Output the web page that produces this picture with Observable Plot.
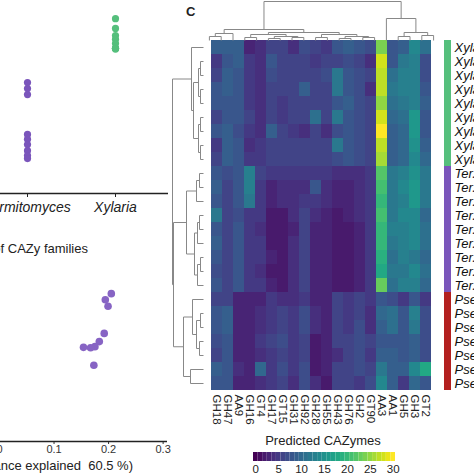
<!DOCTYPE html>
<html><head><meta charset="utf-8">
<script src="https://cdn.jsdelivr.net/npm/d3@7"></script>
<script src="https://cdn.jsdelivr.net/npm/@observablehq/plot@0.6"></script>
<style>
html,body{margin:0;padding:0;background:#fff;overflow:hidden;}
#root{position:relative;width:474px;height:474px;overflow:hidden;font-family:"Liberation Sans",Arial,sans-serif;color:#222;background:#fff;}
.abs{position:absolute;white-space:nowrap;}
</style></head><body><div id="root"></div>
<script>
// ---------- data ----------
const genera = ["Pseudoxylaria", "Termitomyces", "Xylaria"];
const genusColors = ["#b3201f", "#7a55bb", "#55bf7c"];

// panel B (strip): predicted CAZymes per genome
const stripGenus = ["Pseudoxylaria","Pseudoxylaria","Pseudoxylaria","Pseudoxylaria","Pseudoxylaria","Pseudoxylaria","Pseudoxylaria",
  "Termitomyces","Termitomyces","Termitomyces","Termitomyces","Termitomyces","Termitomyces","Termitomyces","Termitomyces","Termitomyces",
  "Xylaria","Xylaria","Xylaria","Xylaria","Xylaria","Xylaria","Xylaria","Xylaria","Xylaria"];
const stripValue = [170,175,180,185,190,195,200,
  295,279,263,157,144,130,114,101,93,
  465,439,420,410,399,386,386,386,384];

// panel PCA
const pcaGenus = ["Pseudoxylaria","Pseudoxylaria","Pseudoxylaria","Xylaria","Xylaria","Xylaria",
  "Termitomyces","Termitomyces","Termitomyces","Termitomyces","Termitomyces","Termitomyces","Termitomyces","Termitomyces","Termitomyces"];
const pcaPC1 = [-0.15,-0.16,-0.14,-0.22,-0.21,-0.23, 0.205,0.194,0.199,0.192,0.183,0.175,0.167,0.154,0.173];
const pcaPC2 = [-0.10,-0.12,-0.09,0.05,0.07,0.03, 0.163,0.146,0.128,0.052,0.029,0.015,0.012,0.013,-0.037];
const pcaTicks = [-0.3,-0.2,-0.1,0,0.1,0.2,0.3];

// panel C heatmap
const families = ["GH18","GH47","AA9","GH16","GT4","GH17","GT15","GH31","GH92","GH28","GH55","GH43","GH76","GH2","GT90","AA3","AA1","GH5","GH3","GT2"];
const genomeNames = [
  "Xylaria sp. X802","Xylaria sp. X3.2","Xylaria sp. X19","Xylaria sp. X25","Xylaria sp. X36","Xylaria sp. X40","Xylaria sp. X52","Xylaria sp. X71","Xylaria sp. X95",
  "Ter. sp. P5","Ter. sp. T112","Ter. sp. T132","Ter. sp. T153","Ter. sp. J132","Ter. sp. P2","Ter. sp. P3","Ter. sp. P4","Ter. sp. T123",
  "Pseudoxylaria sp. 1","Pseudoxylaria sp. 2","Pseudoxylaria sp. 3","Pseudoxylaria sp. 4","Pseudoxylaria sp. 5","Pseudoxylaria sp. 6","Pseudoxylaria sp. 7"];
const genomeGenus = [
  "Xylaria","Xylaria","Xylaria","Xylaria","Xylaria","Xylaria","Xylaria","Xylaria","Xylaria",
  "Termitomyces","Termitomyces","Termitomyces","Termitomyces","Termitomyces","Termitomyces","Termitomyces","Termitomyces","Termitomyces",
  "Pseudoxylaria","Pseudoxylaria","Pseudoxylaria","Pseudoxylaria","Pseudoxylaria","Pseudoxylaria","Pseudoxylaria"];
const counts = [
  [9,9,9,3,4,6,6,4,7,6,5,8,9,8,7,24,8,9,14,11],
  [5,8,9,5,4,8,6,6,6,5,6,6,7,6,4,28,8,12,13,7],
  [6,9,8,5,4,7,6,6,6,6,7,12,8,7,6,27,11,13,13,7],
  [8,9,8,5,4,6,6,6,9,6,6,12,8,7,4,27,12,13,13,8],
  [8,8,8,5,4,6,5,6,6,6,6,8,9,7,6,25,11,12,13,9],
  [6,8,8,6,4,6,5,6,6,11,6,12,8,7,6,28,10,11,16,8],
  [8,9,7,5,4,9,6,5,4,6,4,7,8,7,6,30,9,10,16,8],
  [5,9,8,4,5,6,6,6,6,6,6,12,8,7,6,27,9,10,15,9],
  [6,9,8,5,5,6,6,6,6,6,6,7,8,7,6,26,9,10,14,10],
  [8,7,8,13,6,5,5,5,5,5,5,4,4,4,5,22,12,13,15,12],
  [9,6,8,13,5,3,4,4,4,8,4,3,3,4,5,21,12,14,16,12],
  [8,6,8,12,5,3,4,4,5,5,4,3,3,4,5,20,12,13,16,12],
  [12,6,7,5,5,2,2,4,6,4,3,2,3,4,5,21,12,14,14,10],
  [8,6,8,5,4,2,2,3,6,3,3,2,2,3,5,20,13,13,14,11],
  [9,6,8,5,5,2,2,4,6,3,3,2,2,3,5,20,12,13,14,11],
  [8,6,8,5,5,3,2,4,6,3,3,2,2,3,5,19,11,13,12,10],
  [7,6,8,5,4,2,2,4,6,3,3,2,2,3,5,18,12,12,14,11],
  [8,6,8,5,5,3,2,4,6,3,3,2,2,3,5,23,11,13,13,10],
  [6,6,3,3,3,5,4,4,5,3,3,6,5,6,5,8,7,5,8,5],
  [8,9,3,3,4,5,6,5,7,4,3,6,5,6,4,10,11,8,13,7],
  [8,9,3,3,4,5,6,5,7,4,3,6,5,7,4,9,11,8,12,7],
  [7,8,3,3,5,6,7,5,6,2,3,6,6,7,6,8,8,8,9,7],
  [6,8,3,3,4,5,6,5,6,2,3,4,6,7,5,9,9,8,9,7],
  [9,8,4,3,10,5,7,5,7,2,3,6,6,7,6,12,9,9,14,18],
  [8,8,3,3,4,5,6,4,7,4,2,6,6,5,7,14,9,5,10,8]
];
// dendrograms: [mergeHeight, left, right]; leaves are column / row indices
const colTree = [39,
  [11,
    [7, [4, 0, 1], 2],
    [8,
      [6, [3, 3, 4], [4, [2, 5, 6], [3, 7, 8]]],
      [6, [3, 9, 10], [4, [2, 11, 12], [3, 13, 14]]]]],
  [22, 15, [8, [4, 16, 17], [5, 18, 19]]]];
const rowTree = [31,
  [12, 0, [10, [5, [3, 1, 2], [3, 3, 4]], [5, [3, 5, 6], [3, 7, 8]]]],
  [30,
    [17, [7, [4, 9, 10], 11], [9, [6, [4, 12, 13], 14], [6, [3, 15, 16], 17]]],
    [20, [11, 18, [7, [3, 19, 20], [4, 21, 22]]], [13, 23, 24]]]];
const legendTicks = [0, 5, 10, 15, 20, 25, 30];

// ---------- helpers ----------
const root = document.getElementById("root");
const FONT = '"Liberation Sans", Arial, sans-serif';
const st = (fs, extra = {}) => Object.assign({background: "transparent", overflow: "visible", maxWidth: "none",
  fontFamily: FONT, fontSize: fs + "px", color: "#222"}, extra);
function place(node, left, top) {
  const d = document.createElement("div");
  d.className = "abs"; d.style.left = left + "px"; d.style.top = top + "px";
  d.appendChild(node); root.appendChild(d); return d;
}
function label(text, css) {
  const d = document.createElement("div");
  d.className = "abs"; d.textContent = text;
  Object.assign(d.style, {fontFamily: FONT, lineHeight: "15px"}, css);
  root.appendChild(d);
}
function segments(tree) {
  const segs = [];
  function walk(n) {
    if (typeof n === "number") return {p: n, h: 0};
    const [h, a, b] = n;
    const A = walk(a), B = walk(b);
    segs.push({p1: A.p, h1: A.h, p2: A.p, h2: h});
    segs.push({p1: B.p, h1: B.h, p2: B.p, h2: h});
    segs.push({p1: A.p, h1: h, p2: B.p, h2: h});
    return {p: (A.p + B.p) / 2, h};
  }
  walk(tree);
  return segs;
}

// ---------- panel B strip ----------
const stripRows = stripGenus.map((g, i) => ({genus: g, value: stripValue[i]}));
place(Plot.plot({
  width: 368, height: 230, marginLeft: 86.2, marginRight: 0, marginTop: 5, marginBottom: 37,
  x: {type: "point", domain: genera, padding: 0.6, tickSize: 4, tickPadding: 5, label: null},
  y: {domain: [0, 500], axis: null},
  color: {domain: genera, range: genusColors},
  style: st(14, {fontStyle: "italic"}),
  marks: [
    Plot.ruleY([0], {stroke: "#222", strokeWidth: 1.5}),
    Plot.dot(stripRows, {x: "genus", y: "value", r: 3.6, fill: "genus"})
  ]
}), -200, 0);

// ---------- PCA ----------
const pcaRows = pcaGenus.map((g, i) => ({genus: g, pc1: pcaPC1[i], pc2: pcaPC2[i]}));
const pcaY = [-0.25, 0.25];
place(Plot.plot({
  width: 417, height: 234, marginLeft: 52.6, marginRight: 0, marginTop: 22, marginBottom: 33,
  x: {domain: [-0.36, 0.308], ticks: pcaTicks, tickFormat: d => String(d), tickSize: 3, tickPadding: 1, label: null},
  y: {domain: pcaY, axis: null},
  color: {domain: genera, range: ["#b3201f", "#8764c4", "#55bf7c"]},
  style: st(11, {color: "#333"}),
  marks: [
    Plot.ruleY([pcaY[0]], {stroke: "#222", strokeWidth: 1.5}),
    Plot.dot(pcaRows, {x: "pc1", y: "pc2", fill: "genus", r: 3.8})
  ]
}), -250, 240);
label("PCA of CAZy families", {right: "386px", top: "241px", fontSize: "13px", textAlign: "right"});
label("PC1 (variance explained  60.5 %)", {right: "341px", top: "458px", fontSize: "13px", textAlign: "right", whiteSpace: "pre"});

// ---------- heatmap ----------
const cells = genomeNames.flatMap((g, i) => families.map((f, j) => ({genome: g, family: f, value: counts[i][j]})));
place(Plot.plot({
  width: 474, height: 474, marginLeft: 203, marginRight: 35, marginTop: 40, marginBottom: 84,
  x: {domain: families, padding: 0, tickRotate: 90, tickSize: 0, tickPadding: 4, label: null},
  y: {domain: genomeNames, padding: 0, axis: null},
  color: {type: "linear", scheme: "viridis", domain: [0, 30]},
  style: st(11.5),
  marks: [Plot.cell(cells, {x: "family", y: "genome", fill: "value", inset: 0})]
}), 0, 0);

// column dendrogram
place(Plot.plot({
  width: 474, height: 40, marginLeft: 203, marginRight: 35, marginTop: 1, marginBottom: 0,
  x: {domain: [-0.5, families.length - 0.5], axis: null},
  y: {domain: [0, colTree[0]], axis: null},
  style: st(10),
  marks: [Plot.link(segments(colTree), {x1: "p1", x2: "p2", y1: "h1", y2: "h2", stroke: "#888", strokeWidth: 1})]
}), 0, 0);

// row dendrogram
place(Plot.plot({
  width: 203, height: 474, marginLeft: 172, marginRight: 0, marginTop: 40, marginBottom: 84,
  x: {domain: [rowTree[0], 0], axis: null},
  y: {domain: [-0.5, genomeNames.length - 0.5], reverse: true, axis: null},
  style: st(10),
  marks: [Plot.link(segments(rowTree), {x1: "h1", x2: "h2", y1: "p1", y2: "p2", stroke: "#888", strokeWidth: 1})]
}), 0, 0);

// annotation bar + row labels
const rowTable = genomeNames.map((g, i) => ({name: g, genus: genomeGenus[i]}));
place(Plot.plot({
  width: 451, height: 474, marginLeft: 444, marginRight: 0, marginTop: 40, marginBottom: 84,
  x: {domain: ["genus"], padding: 0, axis: null},
  y: {domain: genomeNames, padding: 0, axis: null},
  color: {domain: genera, range: genusColors},
  style: st(13),
  marks: [
    Plot.cell(rowTable, {x: () => "genus", y: "name", fill: "genus", inset: 0}),
    Plot.text(rowTable, {x: () => "genus", y: "name", text: "name", textAnchor: "start", dx: 6.5, fontStyle: "italic", fill: "#111"})
  ]
}), 0, 0);

// colour legend
place(Plot.plot({
  width: 474, height: 34, marginLeft: 253, marginRight: 79, marginTop: 12, marginBottom: 13,
  x: {domain: [-0.5, 30.5], ticks: legendTicks, tickSize: 0, tickPadding: 3, label: null},
  color: {scheme: "viridis", domain: [0, 30]},
  style: st(11.5),
  marks: [Plot.barX(d3.range(0, 31), {x1: d => d - 0.5, x2: d => d + 0.5, fill: d => d})]
}), 0, 440);
label("Predicted CAZymes", {left: "223px", width: "200px", top: "433px", fontSize: "13px", textAlign: "center"});
label("C", {left: "186px", top: "4px", fontSize: "13px", fontWeight: "bold"});
</script></body></html>
